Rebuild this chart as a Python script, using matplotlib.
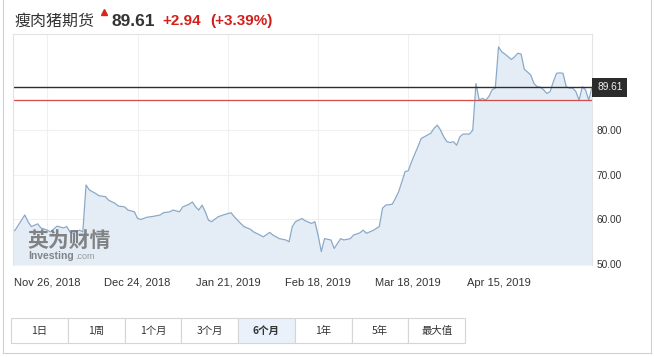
import matplotlib.pyplot as plt
import matplotlib.dates as mdates
import matplotlib.transforms as mtrans
from matplotlib.patches import Rectangle
from matplotlib.lines import Line2D
import pandas as pd

plt.rcParams['font.family'] = ['Liberation Sans', 'Noto Sans CJK SC', 'DejaVu Sans']

# price history
dates = [
    "2018-11-15", "2018-11-16", "2018-11-19", "2018-11-20", "2018-11-21", "2018-11-23", "2018-11-24",
    "2018-11-26", "2018-11-27", "2018-11-29",
    "2018-12-01", "2018-12-02", "2018-12-03", "2018-12-04", "2018-12-06", "2018-12-07", "2018-12-08",
    "2018-12-09", "2018-12-11", "2018-12-12", "2018-12-14", "2018-12-15", "2018-12-17", "2018-12-18",
    "2018-12-20", "2018-12-21", "2018-12-23", "2018-12-24", "2018-12-25", "2018-12-27", "2018-12-29",
    "2018-12-31",
    "2019-01-01", "2019-01-03", "2019-01-04", "2019-01-06", "2019-01-07", "2019-01-09", "2019-01-10",
    "2019-01-11", "2019-01-12", "2019-01-13", "2019-01-14", "2019-01-15", "2019-01-16", "2019-01-18",
    "2019-01-20", "2019-01-22", "2019-01-23", "2019-01-25", "2019-01-26", "2019-01-28", "2019-01-29",
    "2019-01-31",
    "2019-02-01", "2019-02-03", "2019-02-04", "2019-02-06", "2019-02-08", "2019-02-09", "2019-02-10",
    "2019-02-11", "2019-02-13", "2019-02-14", "2019-02-16", "2019-02-17", "2019-02-18", "2019-02-19",
    "2019-02-20", "2019-02-22", "2019-02-23", "2019-02-24", "2019-02-25", "2019-02-26", "2019-02-28",
    "2019-03-01", "2019-03-03", "2019-03-04", "2019-03-05", "2019-03-07", "2019-03-09", "2019-03-10",
    "2019-03-11", "2019-03-13", "2019-03-14", "2019-03-15", "2019-03-16", "2019-03-17", "2019-03-18",
    "2019-03-19", "2019-03-21", "2019-03-22", "2019-03-23", "2019-03-25", "2019-03-26", "2019-03-27",
    "2019-03-28", "2019-03-29", "2019-03-30", "2019-03-31",
    "2019-04-01", "2019-04-02", "2019-04-03", "2019-04-04", "2019-04-06", "2019-04-07", "2019-04-08",
    "2019-04-09", "2019-04-10", "2019-04-11", "2019-04-12", "2019-04-13", "2019-04-14", "2019-04-15",
    "2019-04-16", "2019-04-17", "2019-04-18", "2019-04-19", "2019-04-20", "2019-04-21", "2019-04-22",
    "2019-04-23", "2019-04-24", "2019-04-25", "2019-04-26", "2019-04-27", "2019-04-28", "2019-04-29",
    "2019-04-30",
    "2019-05-01", "2019-05-02", "2019-05-03", "2019-05-04", "2019-05-05", "2019-05-06", "2019-05-07",
    "2019-05-08", "2019-05-09", "2019-05-10", "2019-05-11", "2019-05-12", "2019-05-13", "2019-05-14",
]
prices = [
    57.2, 57.6, 61.0, 59.5, 58.4, 59.0, 58.1,
    57.6, 57.2, 58.5,
    58.1, 58.4, 57.2, 56.9, 57.6, 57.2, 67.7,
    66.6, 65.8, 65.3, 65.1, 64.3, 63.6, 63.0,
    62.8, 62.1, 61.7, 60.2, 60.0, 60.5, 60.7,
    61.0,
    61.5, 61.7, 62.1, 61.7, 62.8, 63.4, 63.9,
    62.8, 62.1, 63.2, 61.7, 59.8, 59.5, 60.6,
    61.1, 61.5, 60.6, 59.1, 58.4, 57.8, 57.2,
    56.5,
    56.1, 57.1, 56.5, 55.7, 55.4, 55.0, 58.4,
    59.5, 60.2, 59.7, 59.1, 59.5, 56.5, 52.8,
    55.7, 55.4, 53.5, 54.6, 55.7, 55.4, 55.7,
    56.5, 57.0, 57.6, 56.9, 57.5, 58.4, 62.5,
    63.2, 63.4, 64.7, 66.2, 68.4, 70.7, 70.9,
    72.9, 76.3, 78.1, 78.5, 79.3, 80.4, 81.1,
    80.0, 78.5, 77.4, 77.2,
    77.4, 76.6, 78.5, 79.1, 79.1, 80.0, 90.4,
    86.7, 87.1, 86.7, 87.5, 89.0, 89.4, 98.6,
    97.5, 97.0, 96.4, 95.8, 96.4, 97.2, 97.0,
    93.6, 93.0, 92.3, 90.4, 89.7, 89.6, 89.0,
    88.2,
    88.6, 90.8, 92.7, 92.8, 92.7, 89.7, 89.4,
    89.4, 88.6, 86.7, 89.7, 89.0, 86.7, 89.61,
]
last_price = 89.61
prev_close = 86.67
change = "+2.94"
change_pct = "(+3.39%)"
yticks = [50, 60, 70, 80]
xtick_dates = ["2018-11-26", "2018-12-24", "2019-01-21", "2019-02-18", "2019-03-18", "2019-04-15"]
ranges = ["1日", "1周", "1个月", "3个月", "6个月", "1年", "5年", "最大值"]
selected = "6个月"

W, H = 654, 357
fig = plt.figure(figsize=(W / 100, H / 100), dpi=100)


def fx(px):
    return px / W


def fy(py):
    return 1 - py / H


x = pd.to_datetime(dates)
ax = fig.add_axes([fx(13), fy(265), fx(592) - fx(13), fy(34) - fy(265)])
ymin, ymax = 49.8, 101.5
ax.set_axisbelow(True)
ax.grid(color='#f0f0f0', lw=0.8)
ax.fill_between(x, prices, ymin, color='#e4edf6', lw=0)
ax.plot(x, prices, color='#8aa9c8', lw=0.9)
ax.axhline(last_price, color='#2e2e2e', lw=1.0)
ax.axhline(prev_close, color='#d24c4c', lw=0.9)
ax.set_ylim(ymin, ymax)
ax.set_xlim(pd.Timestamp("2018-11-15 08:00"), pd.Timestamp("2019-05-14"))

ax.yaxis.tick_right()
ax.set_yticks(yticks)
ax.set_yticklabels(['%.2f' % v for v in yticks])
ax.set_xticks(pd.to_datetime(xtick_dates))
ax.xaxis.set_major_formatter(mdates.DateFormatter('%b %d, %Y'))
ax.tick_params(axis='y', length=0, pad=3, labelsize=7.3, labelcolor='#333333')
ax.tick_params(axis='x', length=0, pad=9, labelsize=8, labelcolor='#333333')
for side in ['top', 'right', 'left']:
    ax.spines[side].set_color('#e3e3e3')
    ax.spines[side].set_linewidth(0.8)
ax.spines['bottom'].set_visible(False)

# last price tag on the right edge
trans = mtrans.blended_transform_factory(ax.transAxes, ax.transData)
ax.text(1.0087, last_price, '%.2f' % last_price, transform=trans, ha='left', va='center',
        fontsize=7.3, color='#f0f0f0', clip_on=False,
        bbox=dict(boxstyle='square,pad=0.45', fc='#2b2b2b', ec='none'))

# watermark
fig.text(fx(27), fy(240), '英为财情', fontsize=15, weight='bold', color='#6f6f6f', alpha=0.85,
         va='center', ha='left', family=['Noto Sans CJK SC'])
fig.text(fx(28), fy(256), 'Investing', fontsize=7.5, weight='bold', color='#777777', alpha=0.9,
         va='center', ha='left')
fig.text(fx(75), fy(256.5), '.com', fontsize=6.5, color='#999999', va='center', ha='left')

# header
fig.text(fx(14), fy(21), '瘦肉猪期货', fontsize=11.5, color='#333333', va='center', ha='left',
         family=['Noto Sans CJK SC'])
fig.add_artist(Line2D([fx(104)], [fy(12)], marker='^', markersize=4.5, color='#d9251d', lw=0))
fig.text(fx(112), fy(21), '%.2f' % last_price, fontsize=12.5, weight='bold', color='#333333',
         va='center', ha='left')
fig.text(fx(162), fy(21), change, fontsize=11, weight='bold', color='#d0201b', va='center', ha='left')
fig.text(fx(210), fy(21), change_pct, fontsize=11, weight='bold', color='#d0201b', va='center', ha='left')

# range buttons
bw = (465 - 11) / len(ranges)
for i, lab in enumerate(ranges):
    left = 11 + i * bw
    sel = lab == selected
    fig.add_artist(Rectangle((fx(left), fy(343)), fx(bw), fy(318) - fy(343),
                             fc='#eaf1fa' if sel else 'white', ec='#d5d5d5', lw=0.8))
    fig.text(fx(left + bw / 2), fy(331), lab, fontsize=7.5, ha='center', va='center',
             color='#333333', weight='bold' if sel else 'normal',
             family=['Noto Sans CJK SC', 'DejaVu Sans'])

# outer frame
for xs, ys in [([3, 3], [0, 353]), ([651, 651], [0, 353]), ([3, 651], [353, 353])]:
    fig.add_artist(Line2D([fx(v) for v in xs], [fy(v) for v in ys], color='#d0d0d0', lw=0.8))

fig.savefig('out.png', dpi=100)
